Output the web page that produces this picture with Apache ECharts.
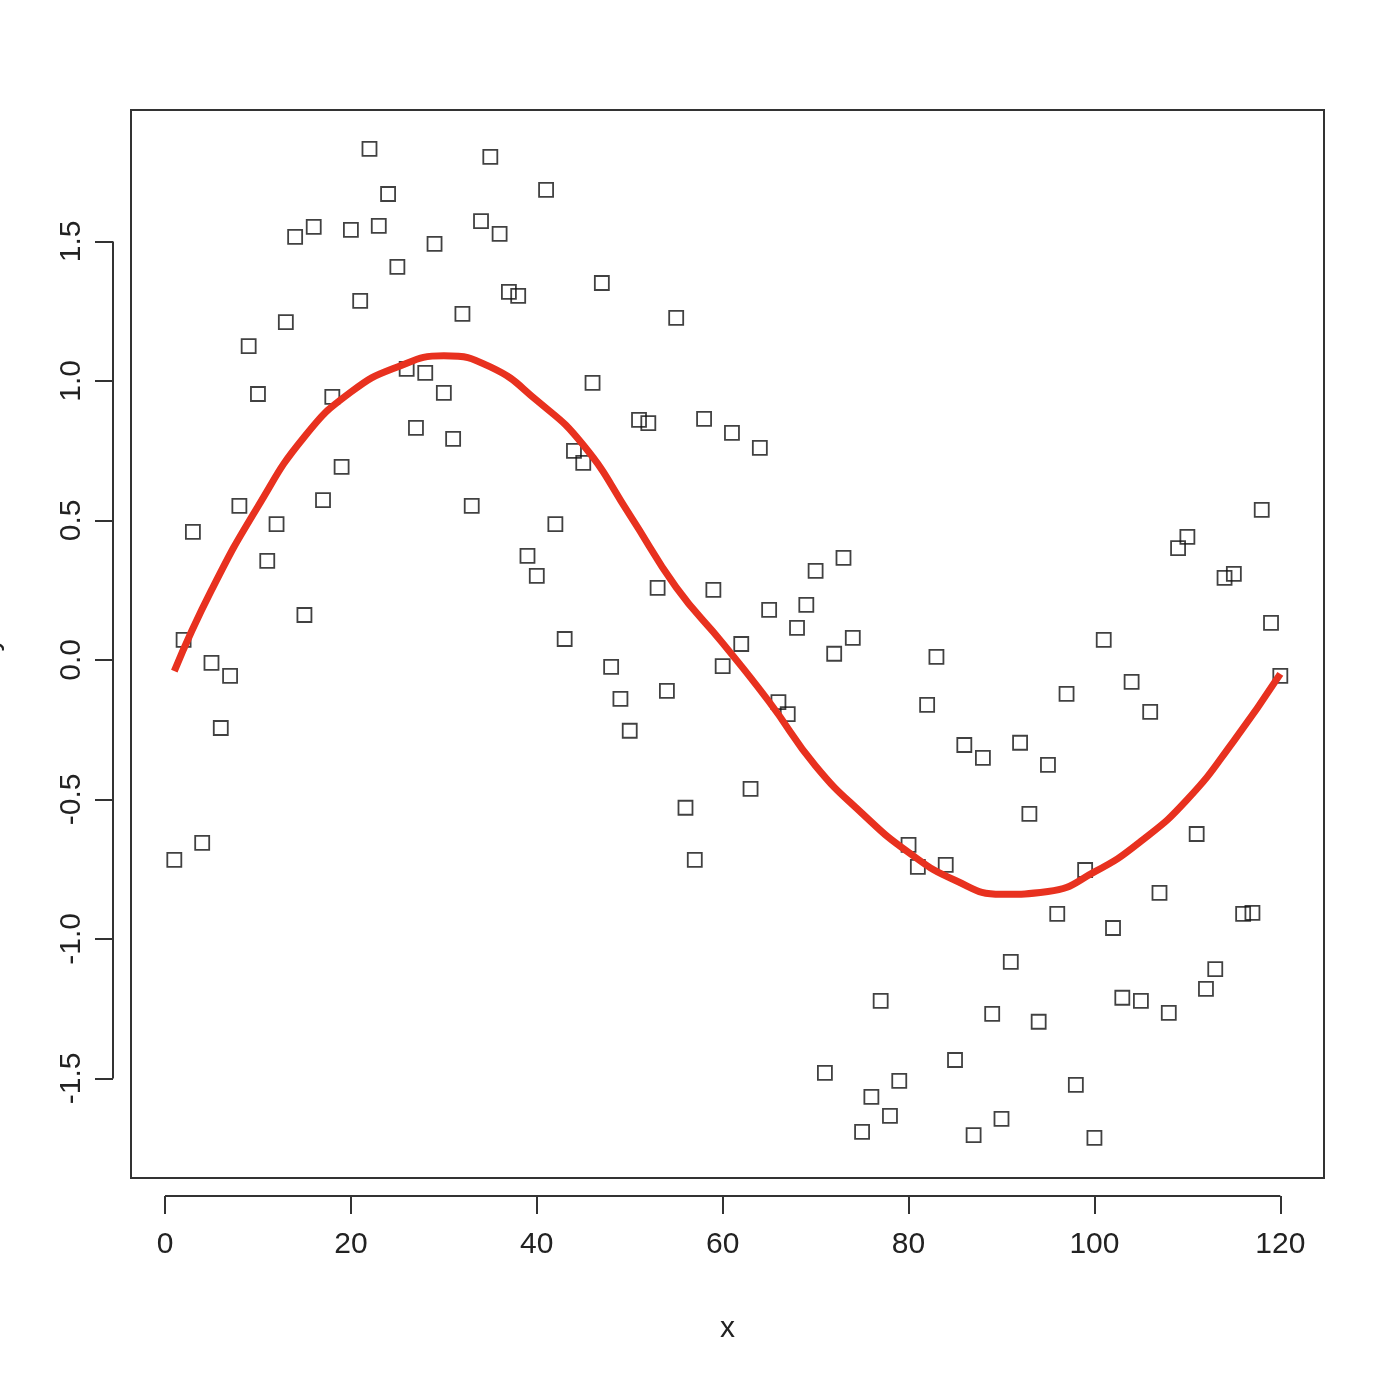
<!DOCTYPE html>
<html>
<head>
<meta charset="utf-8">
<script src="https://cdn.jsdelivr.net/npm/echarts@6/dist/echarts.min.js"></script>
<style>html,body{margin:0;background:#fff}#main{width:1400px;height:1400px}</style>
</head>
<body>
<div id="main"></div>
<script>
// 散点的 y 值，x = 1..120
var yPoints = [
  -0.717, 0.072, 0.459, -0.656, -0.011, -0.244, -0.057, 0.552, 1.125, 0.953,
  0.355, 0.487, 1.211, 1.516, 0.161, 1.552, 0.573, 0.943, 0.692, 1.541,
  1.287, 1.832, 1.556, 1.670, 1.409, 1.043, 0.832, 1.029, 1.491, 0.957,
  0.792, 1.240, 0.552, 1.573, 1.803, 1.527, 1.319, 1.305, 0.373, 0.301,
  1.685, 0.487, 0.075, 0.749, 0.706, 0.993, 1.351, -0.025, -0.140, -0.254,
  0.860, 0.849, 0.258, -0.111, 1.226, -0.530, -0.717, 0.864, 0.251, -0.022,
  0.814, 0.057, -0.462, 0.760, 0.179, -0.151, -0.194, 0.115, 0.197, 0.319,
  -1.480, 0.022, 0.366, 0.079, -1.692, -1.566, -1.222, -1.634, -1.509, -0.663,
  -0.742, -0.161, 0.011, -0.735, -1.434, -0.305, -1.703, -0.351, -1.269, -1.645,
  -1.082, -0.297, -0.552, -1.297, -0.376, -0.910, -0.122, -1.523, -0.753, -1.713,
  0.072, -0.961, -1.211, -0.079, -1.222, -0.186, -0.835, -1.265, 0.401, 0.441,
  -0.624, -1.179, -1.108, 0.294, 0.308, -0.910, -0.907, 0.538, 0.133, -0.057
];
// 红色平滑曲线
var curveX = [1, 5, 10, 15, 20, 25, 30, 35, 40, 45, 50, 55, 60, 65, 70, 75, 80, 85, 90, 95, 100, 105, 110, 115, 120];
var curveY = [-0.04, 0.25, 0.55, 0.80, 0.96, 1.05, 1.09, 1.05, 0.93, 0.77, 0.52, 0.26, 0.06, -0.15, -0.38, -0.55, -0.69, -0.79, -0.84, -0.83, -0.76, -0.65, -0.50, -0.29, -0.05];
var xTicks = [0, 20, 40, 60, 80, 100, 120];
var yTicks = [-1.5, -1.0, -0.5, 0.0, 0.5, 1.0, 1.5];

var scatterData = yPoints.map(function (v, i) { return [i + 1, v]; });
var curveData = curveX.map(function (v, i) { return [v, curveY[i]]; });

var font = 'Liberation Sans';
var myChart = echarts.init(document.getElementById('main'));
var option = {
  animation: false,
  grid: {
    left: 131, right: 76, top: 110, bottom: 222,
    outerBoundsMode: 'none', containLabel: false,
    show: true, borderColor: '#333', borderWidth: 2, backgroundColor: 'transparent'
  },
  xAxis: {
    type: 'value', min: -3.66, max: 124.7, offset: 18,
    name: 'x', nameLocation: 'middle', nameGap: 118,
    nameTextStyle: { fontFamily: font, fontSize: 30, color: '#222' },
    axisLine: { show: false, onZero: false },
    splitLine: { show: false },
    axisTick: { show: true, length: 18, customValues: xTicks, lineStyle: { color: '#333', width: 2 } },
    axisLabel: { customValues: xTicks, fontFamily: font, fontSize: 30, color: '#222', margin: 34 }
  },
  yAxis: {
    type: 'value', min: -1.857, max: 1.971, offset: 18,
    name: 'y', nameLocation: 'middle', nameGap: 108, nameRotate: 90,
    nameTextStyle: { fontFamily: font, fontSize: 30, color: '#222' },
    axisLine: { show: false, onZero: false },
    splitLine: { show: false },
    axisTick: { show: true, length: 18, customValues: yTicks, lineStyle: { color: '#333', width: 2 } },
    axisLabel: {
      customValues: yTicks, rotate: 90, fontFamily: font, fontSize: 30, color: '#222', margin: 26,
      formatter: function (v) { return v.toFixed(1); }
    }
  },
  series: [{
    type: 'scatter',
    data: scatterData,
    symbol: 'rect',
    symbolSize: 14,
    itemStyle: { color: 'rgba(0,0,0,0)', borderColor: '#111', borderWidth: 1.8 }
  }, {
    type: 'line',
    data: curveData,
    smooth: 0.5,
    showSymbol: false,
    lineStyle: { color: '#e8311f', width: 7 }
  }]
};
myChart.setOption(option);

// R 风格的坐标轴线：只画从第一个刻度到最后一个刻度
var x0 = myChart.convertToPixel({ xAxisIndex: 0 }, xTicks[0]);
var x1 = myChart.convertToPixel({ xAxisIndex: 0 }, xTicks[xTicks.length - 1]);
var y0 = myChart.convertToPixel({ yAxisIndex: 0 }, yTicks[0]);
var y1 = myChart.convertToPixel({ yAxisIndex: 0 }, yTicks[yTicks.length - 1]);
var axisY = 1400 - 222 + 18, axisX = 131 - 18;
myChart.setOption({
  graphic: [
    { type: 'line', shape: { x1: x0, y1: axisY, x2: x1, y2: axisY }, style: { stroke: '#333', lineWidth: 2 } },
    { type: 'line', shape: { x1: axisX, y1: y0, x2: axisX, y2: y1 }, style: { stroke: '#333', lineWidth: 2 } }
  ]
});
</script>
</body>
</html>
